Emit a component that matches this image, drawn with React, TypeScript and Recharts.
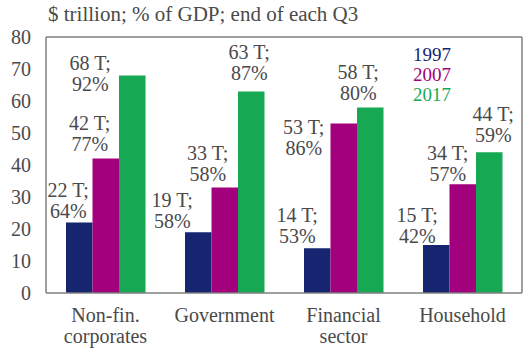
import { Bar, BarChart, LabelList, XAxis, YAxis } from "recharts";

const categories = ["Non-fin.\ncorporates", "Government", "Financial\nsector", "Household"];
const debt1997 = [22, 19, 14, 15];
const debt2007 = [42, 33, 53, 34];
const debt2017 = [68, 63, 58, 44];
const gdp1997 = [64, 58, 53, 42];
const gdp2007 = [77, 58, 86, 57];
const gdp2017 = [92, 87, 80, 59];
const yTicks = [0, 10, 20, 30, 40, 50, 60, 70, 80];

const FONT = '"Liberation Serif", Tinos, "Times New Roman", serif';
const TEXT = "#4a4a4a";
const AXIS = "#808080";

const series = [
  { key: "y1997", name: "1997", color: "#15256f", pct: gdp1997 },
  { key: "y2007", name: "2007", color: "#a3007d", pct: gdp2007 },
  { key: "y2017", name: "2017", color: "#17a854", pct: gdp2017 },
];

// label nudges: [dx from bar centre, gap between bar top and the second line]
const nudges: Record<string, [number, number][]> = {
  y1997: [[-11, 11], [-26, 10], [-20, 11], [-19, 8]],
  y2007: [[-16, 14], [-17, 12], [-40, -26], [-15, 9]],
  y2017: [[-42, -10], [-2, 17], [-12, 13], [4, 16]],
};

const data = categories.map((name, i) => ({
  name,
  y1997: debt1997[i],
  y2007: debt2007[i],
  y2017: debt2017[i],
}));

function makeLabel(key: string, pct: number[]) {
  return (props: any) => {
    const { x, y, width, index, value } = props;
    const [dx, gap] = nudges[key][index];
    const cx = Number(x) + Number(width) / 2 + dx;
    const base2 = Number(y) - gap + 6;
    return (
      <text x={cx} y={base2} textAnchor="middle" fill={TEXT} fontSize={20} fontFamily={FONT}>
        <tspan x={cx} y={base2 - 21}>{`${value} T;`}</tspan>
        <tspan x={cx} y={base2}>{`${pct[index]}%`}</tspan>
      </text>
    );
  };
}

function CategoryTick(props: any) {
  const { x, y, payload } = props;
  const lines = String(payload.value).split("\n");
  return (
    <text x={x} y={y} textAnchor="middle" fill={TEXT} fontSize={20} fontFamily={FONT}>
      {lines.map((l, i) => (
        <tspan key={i} x={x} y={y + 21 + i * 21}>{l}</tspan>
      ))}
    </text>
  );
}

export default function App() {
  return (
    <div style={{ position: "absolute", left: 0, top: 0, width: 530, height: 351, background: "#fff" }}>
      <div
        style={{
          position: "absolute",
          left: 48,
          top: 3,
          fontFamily: FONT,
          fontSize: 20,
          color: TEXT,
          whiteSpace: "nowrap",
          transform: "scaleX(1.05)",
          transformOrigin: "left top",
        }}
      >
        $ trillion; % of GDP; end of each Q3
      </div>
      <div
        style={{
          position: "absolute",
          left: 413,
          top: 45,
          fontFamily: FONT,
          fontSize: 19,
          lineHeight: "20px",
          zIndex: 2,
        }}
      >
        {series.map((s) => (
          <div key={s.key} style={{ color: s.color }}>{s.name}</div>
        ))}
      </div>
      <BarChart
        width={530}
        height={351}
        data={data}
        margin={{ top: 36, right: 7, bottom: 28, left: 6 }}
        barGap={0}
        barSize={26.5}
      >
        <XAxis
          dataKey="name"
          axisLine={{ stroke: AXIS, strokeWidth: 1.5 }}
          tickLine={false}
          tick={<CategoryTick />}
          interval={0}
        />
        <XAxis
          xAxisId="top"
          dataKey="name"
          orientation="top"
          axisLine={{ stroke: AXIS, strokeWidth: 1.5 }}
          tickLine={false}
          tick={false}
          height={1}
        />
        <YAxis
          domain={[0, 80]}
          ticks={yTicks}
          interval={0}
          width={40}
          axisLine={{ stroke: AXIS, strokeWidth: 1.5 }}
          tickLine={false}
          tickSize={0}
          tickMargin={15}
          tick={{ fill: TEXT, fontSize: 20, fontFamily: FONT }}
        />
        <YAxis
          yAxisId="r"
          orientation="right"
          domain={[0, 80]}
          width={1}
          axisLine={{ stroke: AXIS, strokeWidth: 1.5 }}
          tickLine={false}
          tick={false}
        />
        {series.map((s) => (
          <Bar key={s.key} dataKey={s.key} name={s.name} fill={s.color} isAnimationActive={false}>
            <LabelList dataKey={s.key} content={makeLabel(s.key, s.pct)} />
          </Bar>
        ))}
      </BarChart>
    </div>
  );
}
